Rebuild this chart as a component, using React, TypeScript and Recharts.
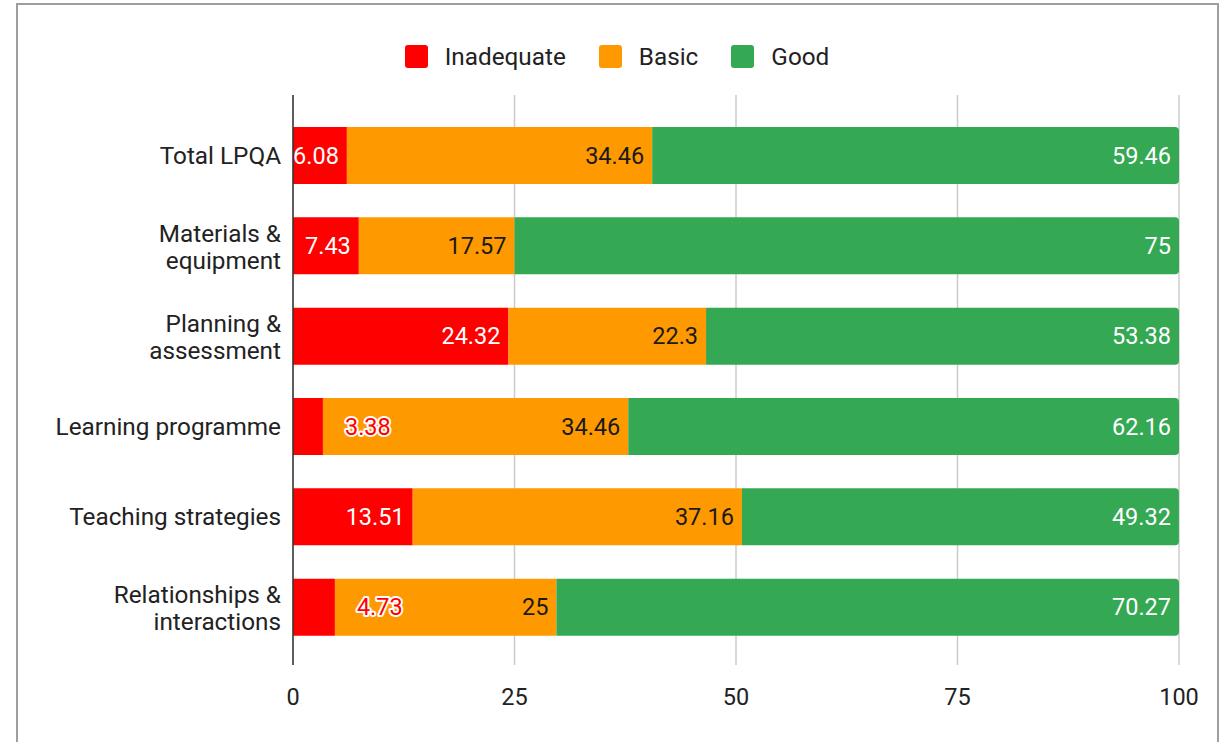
import { Bar, BarChart, CartesianGrid, LabelList, XAxis, YAxis } from "recharts";

const CATEGORIES = [
  "Total LPQA",
  "Materials & equipment",
  "Planning & assessment",
  "Learning programme",
  "Teaching strategies",
  "Relationships & interactions",
];
const INADEQUATE = [6.08, 7.43, 24.32, 3.38, 13.51, 4.73];
const BASIC = [34.46, 17.57, 22.3, 34.46, 37.16, 25];
const GOOD = [59.46, 75, 53.38, 62.16, 49.32, 70.27];
const X_TICKS = [0, 25, 50, 75, 100];

const SERIES = [
  { key: "inadequate", name: "Inadequate", color: "#ff0000", text: "#ffffff" },
  { key: "basic", name: "Basic", color: "#ff9900", text: "#1a1a1a" },
  { key: "good", name: "Good", color: "#34a853", text: "#ffffff" },
];

const FONT = "Roboto, 'Liberation Sans', Arial, sans-serif";
const FS = 23.5; // value labels, x ticks
const FS_CAT = 24.3; // category labels, legend

const data = CATEGORIES.map((category, i) => ({
  category,
  inadequate: INADEQUATE[i],
  basic: BASIC[i],
  good: GOOD[i],
}));

// rough Roboto width so we know whether a label fits in its bar
function textWidth(s: string) {
  let w = 0;
  for (const ch of s) w += ch === "." ? 0.26 : 0.562;
  return w * FS;
}

function makeLabel(fill: string) {
  return (props: any) => {
    const { x, y, width, height, value } = props;
    const s = String(value);
    const cy = y + height / 2;
    if (width < textWidth(s) + 8) {
      // doesn't fit: red text with white halo just past the bar
      return (
        <text
          x={x + width + 22}
          y={cy}
          dominantBaseline="central"
          textAnchor="start"
          fontFamily={FONT}
          fontSize={FS}
          fill="#ff0000"
          stroke="#ffffff"
          strokeWidth={4}
          strokeLinejoin="round"
          paintOrder="stroke"
        >
          {s}
        </text>
      );
    }
    return (
      <text
        x={x + width - 8}
        y={cy}
        dominantBaseline="central"
        textAnchor="end"
        fontFamily={FONT}
        fontSize={FS}
        fill={fill}
      >
        {s}
      </text>
    );
  };
}

function CategoryTick(props: any) {
  const { x, y, payload } = props;
  const parts = String(payload.value).split(" & ");
  const lines = parts.length > 1 ? [parts[0] + " &", parts[1]] : parts;
  const offsets = lines.length > 1 ? [-12.5, 14.5] : [0];
  return (
    <g>
      {lines.map((l, i) => (
        <text
          key={i}
          x={x}
          y={y + offsets[i]}
          textAnchor="end"
          dominantBaseline="central"
          fontFamily={FONT}
          fontSize={FS_CAT}
          fill="#222222"
        >
          {l}
        </text>
      ))}
    </g>
  );
}

function ValueTick(props: any) {
  const { x, y, payload } = props;
  return (
    <text
      x={x}
      y={y + 29.5}
      textAnchor="middle"
      dominantBaseline="central"
      fontFamily={FONT}
      fontSize={FS}
      fill="#222222"
    >
      {payload.value}
    </text>
  );
}

export default function App() {
  return (
    <div
      style={{
        position: "fixed",
        left: 0,
        top: 0,
        width: 1223,
        height: 742,
        background: "#ffffff",
        overflow: "hidden",
      }}
    >
      <div
        style={{
          position: "absolute",
          left: 16,
          top: 3,
          width: 1203,
          height: 800,
          border: "2.5px solid #9e9e9e",
          boxSizing: "border-box",
        }}
      />
      {/* legend */}
      <div
        style={{
          position: "absolute",
          left: 17,
          top: 40,
          width: 1200,
          height: 32,
          display: "flex",
          justifyContent: "center",
          alignItems: "center",
          fontFamily: FONT,
          fontSize: FS_CAT,
          color: "#222222",
        }}
      >
        {SERIES.map((s, i) => (
          <div key={s.key} style={{ display: "flex", alignItems: "center", marginLeft: i === 0 ? 0 : 33 }}>
            <div style={{ width: 23, height: 23, borderRadius: 3, background: s.color, marginRight: 17 }} />
            <span>{s.name}</span>
          </div>
        ))}
      </div>
      <div style={{ position: "absolute", left: 0, top: 0 }}>
        <BarChart
          width={1223}
          height={742}
          data={data}
          layout="vertical"
          margin={{ top: 95, right: 44, bottom: 37, left: 13 }}
          barSize={57}
        >
          <CartesianGrid horizontal={false} stroke="#cccccc" strokeWidth={1.5} />
          <XAxis
            type="number"
            domain={[0, 100]}
            ticks={X_TICKS}
            axisLine={false}
            tickLine={false}
            tickSize={0}
            height={40}
            tick={<ValueTick />}
            interval={0}
          />
          <YAxis
            type="category"
            dataKey="category"
            width={280}
            axisLine={{ stroke: "#333333", strokeWidth: 1.5 }}
            tickLine={false}
            tickSize={0}
            tickMargin={12}
            padding={{ top: 15, bottom: 13 }}
            tick={<CategoryTick />}
            interval={0}
          />
          {SERIES.map((s) => (
            <Bar
              key={s.key}
              dataKey={s.key}
              name={s.name}
              stackId="a"
              fill={s.color}
              isAnimationActive={false}
              radius={s.key === "good" ? [0, 4, 4, 0] : 0}
            >
              <LabelList dataKey={s.key} content={makeLabel(s.text)} />
            </Bar>
          ))}
        </BarChart>
      </div>
    </div>
  );
}
